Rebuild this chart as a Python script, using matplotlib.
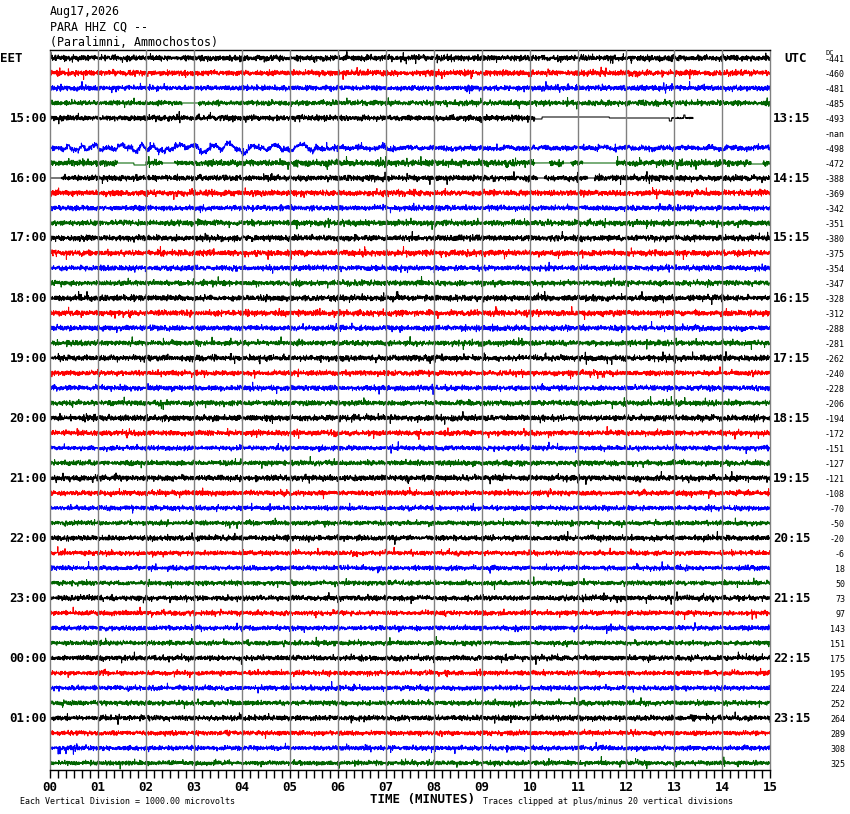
import numpy as np
import matplotlib
matplotlib.use('Agg')
import matplotlib.pyplot as plt

# header
station = "PARA HHZ CQ --"
date_str = "Aug17,2026"
place = "(Paralimni, Ammochostos)"

# one trace per 15 minutes, 48 rows
eet_labels = ["15:00", "16:00", "17:00", "18:00", "19:00", "20:00",
              "21:00", "22:00", "23:00", "00:00", "01:00"]
utc_labels = ["13:15", "14:15", "15:15", "16:15", "17:15", "18:15",
              "19:15", "20:15", "21:15", "22:15", "23:15"]
dc_values = ["-441", "-460", "-481", "-485", "-493", "-nan", "-498", "-472",
             "-388", "-369", "-342", "-351", "-380", "-375", "-354", "-347",
             "-328", "-312", "-288", "-281", "-262", "-240", "-228", "-206",
             "-194", "-172", "-151", "-127", "-121", "-108", "-70", "-50",
             "-20", "-6", "18", "50", "73", "97", "143", "151",
             "175", "195", "224", "252", "264", "289", "308", "325"]
minute_labels = ["%02d" % m for m in range(16)]

# relative noise level of each row (1 = typical)
row_amp = [1.0, 1.0, 0.9, 0.9, 1.0, 0.0, 0.9, 1.1,
           1.0, 1.0, 0.9, 1.0, 1.0, 1.0, 0.9, 0.9,
           1.0, 1.0, 0.9, 0.9, 1.0, 0.9, 0.9, 0.9,
           1.0, 0.9, 0.8, 0.9, 1.0, 0.9, 0.8, 0.8,
           0.9, 0.8, 0.8, 0.8, 0.9, 0.8, 0.8, 0.8,
           0.9, 0.8, 0.8, 0.8, 0.9, 0.8, 0.8, 0.8]

# flat (dead) stretches: row, start min, end min, level in px
flat_row = [3, 4, 4, 4, 7, 7, 7, 7, 7, 7, 7, 8, 8, 8]
flat_t0 = [2.75, 10.1, 10.25, 11.65, 1.4, 1.75, 2.35, 10.1, 10.7, 11.1, 14.6, 0.0, 10.15, 11.2]
flat_t1 = [3.1, 10.25, 11.65, 12.9, 1.75, 2.0, 2.6, 10.4, 10.85, 11.8, 14.85, 0.25, 10.3, 11.35]
flat_lvl = [0, 1, -1, 0, 0, 2, 0, 0, 0, 0, 1, 0, 0, 0]

# trace stops at this minute in row 4, row 5 has no data
row4_end = 13.4
# slow wobble on row 6 (blue) for the first minutes
wobble_end = 5.5
wobble_px = 2.2

colors = ['black', 'red', 'blue', '#006400']
grid_gray = '#808080'

W, H = 850, 814
fig = plt.figure(figsize=(W / 100, H / 100), dpi=100)
ax = fig.add_axes([50 / W, (H - 770) / H, 720 / W, 720 / H])

px = 1 / 15.0  # one pixel in row units
n = 3600
t = np.linspace(0, 15, n)
rng = np.random.default_rng(17)

for i in range(48):
    if row_amp[i] == 0:
        continue
    y = rng.normal(0, 1.25, n)
    spikes = rng.random(n) < 0.02
    y[spikes] *= 2.4
    y = np.clip(y * row_amp[i], -6.5, 6.5)
    if i == 6:
        walk = np.cumsum(rng.normal(0, 1, n))
        walk = walk - np.convolve(walk, np.ones(121) / 121, 'same')
        walk = np.convolve(walk, np.ones(21) / 21, 'same')
        early = (t > 0.3) & (t < wobble_end)
        walk = walk / walk[early].std() * wobble_px
        y = y + np.where(t < wobble_end, walk, walk * 0.3)
    for r, a, b, lv in zip(flat_row, flat_t0, flat_t1, flat_lvl):
        if r == i:
            m = (t >= a) & (t < b)
            y[m] = lv
    if i == 4:
        m = (t >= 12.9) & (t < row4_end)
        y[m] = rng.normal(0, 0.3, m.sum())
        y[(t > 12.9) & (t < 12.95)] = 3
        y[(t > 13.2) & (t < 13.23)] = -3
        y[t >= row4_end] = np.nan
    ax.plot(t, i + y * px, color=colors[i % 4], lw=0.75, zorder=2)

# minute grid on top of traces
for m in range(1, 15):
    ax.axvline(m, color=grid_gray, lw=1.0, zorder=3)

ax.set_xlim(0, 15)
ax.set_ylim((770 - 58) / 15, -8 / 15)
for s in ['left', 'right']:
    ax.spines[s].set_color(grid_gray)
ax.spines['top'].set_color('black')
ax.spines['bottom'].set_color('black')
for s in ax.spines.values():
    s.set_linewidth(1.0)

ax.set_xticks(np.arange(0, 15.01, 1 / 6), minor=True)
ax.set_xticks(range(16))
ax.set_xticklabels(minute_labels, fontfamily='DejaVu Sans Mono',
                   fontweight='bold', fontsize=9)
ax.tick_params(axis='x', which='both', direction='out', length=6, width=1,
               pad=2, color='black')
ax.set_yticks([])

mono = 'DejaVu Sans Mono'
# header lines
fig.text(50 / W, 1 - 12 / H, date_str, family=mono, fontsize=8.4, va='center')
fig.text(50 / W, 1 - 27 / H, station, family=mono, fontsize=8.4, va='center')
fig.text(50 / W, 1 - 42 / H, place, family=mono, fontsize=8.4, va='center')

def row_y(i):
    return 1 - (58 + 15 * i) / H

fig.text(0, row_y(0), "EET", family=mono, fontweight='bold', fontsize=9, va='center')
fig.text(784 / W, row_y(0), "UTC", family=mono, fontweight='bold', fontsize=9, va='center')
for k in range(11):
    yy = row_y(4 * (k + 1))
    fig.text(47 / W, yy, eet_labels[k], family=mono, fontweight='bold',
             fontsize=9, va='center', ha='right')
    fig.text(773 / W, yy, utc_labels[k], family=mono, fontweight='bold',
             fontsize=9, va='center', ha='left')

fig.text(826 / W, 1 - 53 / H, "DC", family=mono, fontsize=5, va='center')
for i, v in enumerate(dc_values):
    fig.text(845 / W, row_y(i) - 1.5 / H, v, family=mono, fontsize=6,
             va='center', ha='right')

fig.text(20 / W, 1 - 801 / H, "Each Vertical Division = 1000.00 microvolts",
         family=mono, fontsize=6, va='center')
fig.text(422 / W, 1 - 800 / H, "TIME (MINUTES)", family=mono,
         fontweight='bold', fontsize=9, va='center', ha='center')
fig.text(483 / W, 1 - 801 / H, "Traces clipped at plus/minus 20 vertical divisions",
         family=mono, fontsize=6, va='center')

fig.savefig('out.png', dpi=100)
